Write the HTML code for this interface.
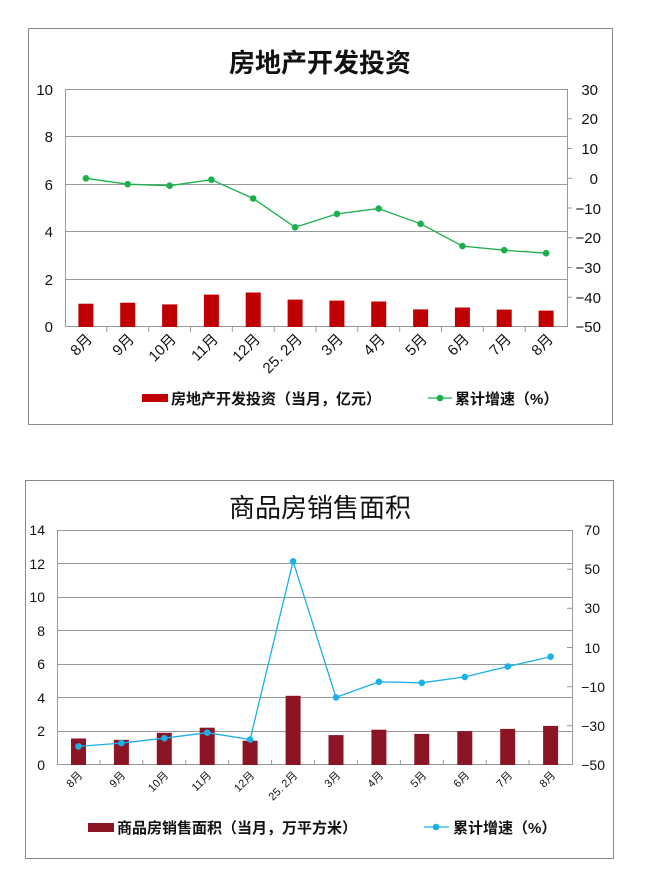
<!DOCTYPE html>
<html><head><meta charset="utf-8"><style>
body{margin:0;background:#fff;}
svg{display:block;font-family:"Liberation Sans","Noto Sans CJK SC",sans-serif;}
</style></head><body>
<svg width="645" height="881" viewBox="0 0 645 881" xmlns="http://www.w3.org/2000/svg">
<rect x="28.5" y="28.5" width="584" height="396" fill="#fff" stroke="#888" stroke-width="1"/>
<text x="320" y="72" font-size="26" font-weight="bold" text-anchor="middle" fill="#111">房地产开发投资</text>
<g stroke="#999" stroke-width="1">
<line x1="65" y1="89.5" x2="567" y2="89.5"/>
<line x1="65" y1="136.5" x2="567" y2="136.5"/>
<line x1="65" y1="184.5" x2="567" y2="184.5"/>
<line x1="65" y1="231.5" x2="567" y2="231.5"/>
<line x1="65" y1="279.5" x2="567" y2="279.5"/>
<line x1="65.5" y1="89" x2="65.5" y2="327"/>
<line x1="567.5" y1="89" x2="567.5" y2="327"/>
<line x1="65" y1="326.5" x2="567" y2="326.5"/>
<line x1="567" y1="118.75" x2="572" y2="118.75"/><line x1="567" y1="148.5" x2="572" y2="148.5"/><line x1="567" y1="178.25" x2="572" y2="178.25"/><line x1="567" y1="208" x2="572" y2="208"/><line x1="567" y1="237.75" x2="572" y2="237.75"/><line x1="567" y1="267.5" x2="572" y2="267.5"/><line x1="567" y1="297.25" x2="572" y2="297.25"/>
<line x1="106.8" y1="327" x2="106.8" y2="332"/><line x1="148.7" y1="327" x2="148.7" y2="332"/><line x1="190.5" y1="327" x2="190.5" y2="332"/><line x1="232.3" y1="327" x2="232.3" y2="332"/><line x1="274.2" y1="327" x2="274.2" y2="332"/><line x1="316" y1="327" x2="316" y2="332"/><line x1="357.8" y1="327" x2="357.8" y2="332"/><line x1="399.7" y1="327" x2="399.7" y2="332"/><line x1="441.5" y1="327" x2="441.5" y2="332"/><line x1="483.3" y1="327" x2="483.3" y2="332"/><line x1="525.2" y1="327" x2="525.2" y2="332"/>
</g>
<g fill="#c00000">
<rect x="78.4" y="303.7" width="15" height="23.3"/>
<rect x="120.2" y="302.7" width="15" height="24.3"/>
<rect x="162.1" y="304.4" width="15" height="22.6"/>
<rect x="203.9" y="294.6" width="15" height="32.4"/>
<rect x="245.7" y="292.5" width="15" height="34.5"/>
<rect x="287.6" y="299.6" width="15" height="27.4"/>
<rect x="329.4" y="300.6" width="15" height="26.4"/>
<rect x="371.2" y="301.5" width="15" height="25.5"/>
<rect x="413.1" y="309.4" width="15" height="17.6"/>
<rect x="454.9" y="307.5" width="15" height="19.5"/>
<rect x="496.7" y="309.6" width="15" height="17.4"/>
<rect x="538.6" y="310.6" width="15" height="16.4"/>
</g>
<polyline fill="none" stroke="#1ab04a" stroke-width="1.3" points="85.9,178.3 127.7,184.2 169.6,185.7 211.4,179.7 253.2,198.5 295.1,227.3 336.9,213.9 378.7,208.6 420.6,223.8 462.4,246.1 504.2,250.2 546.1,253.2"/>
<g fill="#1ab04a">
<circle cx="85.9" cy="178.3" r="3.3"/><circle cx="127.7" cy="184.2" r="3.3"/><circle cx="169.6" cy="185.7" r="3.3"/><circle cx="211.4" cy="179.7" r="3.3"/><circle cx="253.2" cy="198.5" r="3.3"/><circle cx="295.1" cy="227.3" r="3.3"/><circle cx="336.9" cy="213.9" r="3.3"/><circle cx="378.7" cy="208.6" r="3.3"/><circle cx="420.6" cy="223.8" r="3.3"/><circle cx="462.4" cy="246.1" r="3.3"/><circle cx="504.2" cy="250.2" r="3.3"/><circle cx="546.1" cy="253.2" r="3.3"/>
</g>
<g font-size="15" fill="#111" text-anchor="end">
<text x="53" y="95">10</text><text x="53" y="142">8</text><text x="53" y="190">6</text><text x="53" y="237">4</text><text x="53" y="285">2</text><text x="53" y="332">0</text>
</g>
<g font-size="15" fill="#111" text-anchor="end">
<text x="598" y="95">30</text><text x="598" y="124">20</text><text x="598" y="154">10</text><text x="598" y="184">0</text><text x="601" y="214">−10</text><text x="601" y="243">−20</text><text x="601" y="273">−30</text><text x="601" y="303">−40</text><text x="601" y="332">−50</text>
</g>
<g font-size="15" fill="#111" text-anchor="end">
<text transform="translate(93,340) rotate(-45)">8月</text>
<text transform="translate(135,340) rotate(-45)">9月</text>
<text transform="translate(177,340) rotate(-45)">10月</text>
<text transform="translate(219,340) rotate(-45)">11月</text>
<text transform="translate(261,340) rotate(-45)">12月</text>
<text transform="translate(303,340) rotate(-45)">25. 2月</text>
<text transform="translate(344,340) rotate(-45)">3月</text>
<text transform="translate(386,340) rotate(-45)">4月</text>
<text transform="translate(428,340) rotate(-45)">5月</text>
<text transform="translate(470,340) rotate(-45)">6月</text>
<text transform="translate(512,340) rotate(-45)">7月</text>
<text transform="translate(554,340) rotate(-45)">8月</text>
</g>
<rect x="142" y="394" width="26" height="8" fill="#c00000"/>
<text x="171" y="404" font-size="15" font-weight="bold" fill="#111">房地产开发投资（当月，亿元）</text>
<line x1="428" y1="398" x2="452" y2="398" stroke="#1ab04a" stroke-width="1.3"/>
<circle cx="440" cy="398" r="3.3" fill="#1ab04a"/>
<text x="455" y="404" font-size="15" font-weight="bold" fill="#111">累计增速（%）</text>

<rect x="25.5" y="480.5" width="588" height="378" fill="#fff" stroke="#888" stroke-width="1"/>
<text x="320" y="517" font-size="26" text-anchor="middle" fill="#111">商品房销售面积</text>
<g stroke="#999" stroke-width="1">
<line x1="57" y1="530.5" x2="572" y2="530.5"/>
<line x1="57" y1="563.5" x2="572" y2="563.5"/>
<line x1="57" y1="597.5" x2="572" y2="597.5"/>
<line x1="57" y1="630.5" x2="572" y2="630.5"/>
<line x1="57" y1="664.5" x2="572" y2="664.5"/>
<line x1="57" y1="697.5" x2="572" y2="697.5"/>
<line x1="57" y1="731.5" x2="572" y2="731.5"/>
<line x1="57.5" y1="530" x2="57.5" y2="765"/>
<line x1="572.5" y1="530" x2="572.5" y2="765"/>
<line x1="57" y1="764.5" x2="572" y2="764.5"/>
<line x1="567" y1="569.2" x2="572" y2="569.2"/><line x1="567" y1="608.3" x2="572" y2="608.3"/><line x1="567" y1="647.5" x2="572" y2="647.5"/><line x1="567" y1="686.7" x2="572" y2="686.7"/><line x1="567" y1="725.8" x2="572" y2="725.8"/>
<line x1="99.9" y1="760" x2="99.9" y2="765"/><line x1="142.8" y1="760" x2="142.8" y2="765"/><line x1="185.8" y1="760" x2="185.8" y2="765"/><line x1="228.7" y1="760" x2="228.7" y2="765"/><line x1="271.6" y1="760" x2="271.6" y2="765"/><line x1="314.5" y1="760" x2="314.5" y2="765"/><line x1="357.4" y1="760" x2="357.4" y2="765"/><line x1="400.4" y1="760" x2="400.4" y2="765"/><line x1="443.3" y1="760" x2="443.3" y2="765"/><line x1="486.2" y1="760" x2="486.2" y2="765"/><line x1="529.1" y1="760" x2="529.1" y2="765"/>
</g>
<g fill="#8b1525">
<rect x="71" y="738.5" width="15" height="26.5"/>
<rect x="113.9" y="739.8" width="15" height="25.2"/>
<rect x="156.8" y="732.8" width="15" height="32.2"/>
<rect x="199.7" y="727.7" width="15" height="37.3"/>
<rect x="242.6" y="740.7" width="15" height="24.3"/>
<rect x="285.6" y="695.8" width="15" height="69.2"/>
<rect x="328.5" y="735.1" width="15" height="29.9"/>
<rect x="371.4" y="729.7" width="15" height="35.3"/>
<rect x="414.3" y="733.9" width="15" height="31.1"/>
<rect x="457.3" y="731.1" width="15" height="33.9"/>
<rect x="500.2" y="728.9" width="15" height="36.1"/>
<rect x="543.1" y="725.9" width="15" height="39.1"/>
</g>
<polyline fill="none" stroke="#1ab0e8" stroke-width="1.3" points="78.5,746.4 121.4,743.1 164.3,738.2 207.2,732.7 250.1,739.5 293.1,561.3 336,697.4 378.9,681.8 421.8,682.8 464.8,676.9 507.7,666.5 550.6,656.7"/>
<g fill="#1ab0e8">
<circle cx="78.5" cy="746.4" r="3.3"/><circle cx="121.4" cy="743.1" r="3.3"/><circle cx="164.3" cy="738.2" r="3.3"/><circle cx="207.2" cy="732.7" r="3.3"/><circle cx="250.1" cy="739.5" r="3.3"/><circle cx="293.1" cy="561.3" r="3.3"/><circle cx="336" cy="697.4" r="3.3"/><circle cx="378.9" cy="681.8" r="3.3"/><circle cx="421.8" cy="682.8" r="3.3"/><circle cx="464.8" cy="676.9" r="3.3"/><circle cx="507.7" cy="666.5" r="3.3"/><circle cx="550.6" cy="656.7" r="3.3"/>
</g>
<g font-size="14" fill="#111" text-anchor="end">
<text x="45" y="535">14</text><text x="45" y="569">12</text><text x="45" y="602">10</text><text x="45" y="636">8</text><text x="45" y="669">6</text><text x="45" y="703">4</text><text x="45" y="736">2</text><text x="45" y="770">0</text>
</g>
<g font-size="14" fill="#111" text-anchor="end">
<text x="600" y="535">70</text><text x="600" y="574">50</text><text x="600" y="613">30</text><text x="600" y="653">10</text><text x="605" y="692">−10</text><text x="605" y="731">−30</text><text x="605" y="770">−50</text>
</g>
<g font-size="11" fill="#111" text-anchor="end">
<text transform="translate(83,776) rotate(-45)">8月</text>
<text transform="translate(126,776) rotate(-45)">9月</text>
<text transform="translate(169,776) rotate(-45)">10月</text>
<text transform="translate(212,776) rotate(-45)">11月</text>
<text transform="translate(255,776) rotate(-45)">12月</text>
<text transform="translate(298,776) rotate(-45)">25. 2月</text>
<text transform="translate(341,776) rotate(-45)">3月</text>
<text transform="translate(384,776) rotate(-45)">4月</text>
<text transform="translate(427,776) rotate(-45)">5月</text>
<text transform="translate(470,776) rotate(-45)">6月</text>
<text transform="translate(513,776) rotate(-45)">7月</text>
<text transform="translate(556,776) rotate(-45)">8月</text>
</g>
<rect x="88" y="823" width="26" height="9" fill="#8b1525"/>
<text x="117" y="833" font-size="15" font-weight="bold" fill="#111">商品房销售面积（当月，万平方米）</text>
<line x1="424" y1="827" x2="449" y2="827" stroke="#1ab0e8" stroke-width="1.3"/>
<circle cx="436" cy="827" r="3.3" fill="#1ab0e8"/>
<text x="453" y="833" font-size="15" font-weight="bold" fill="#111">累计增速（%）</text>
</svg>
</body></html>
